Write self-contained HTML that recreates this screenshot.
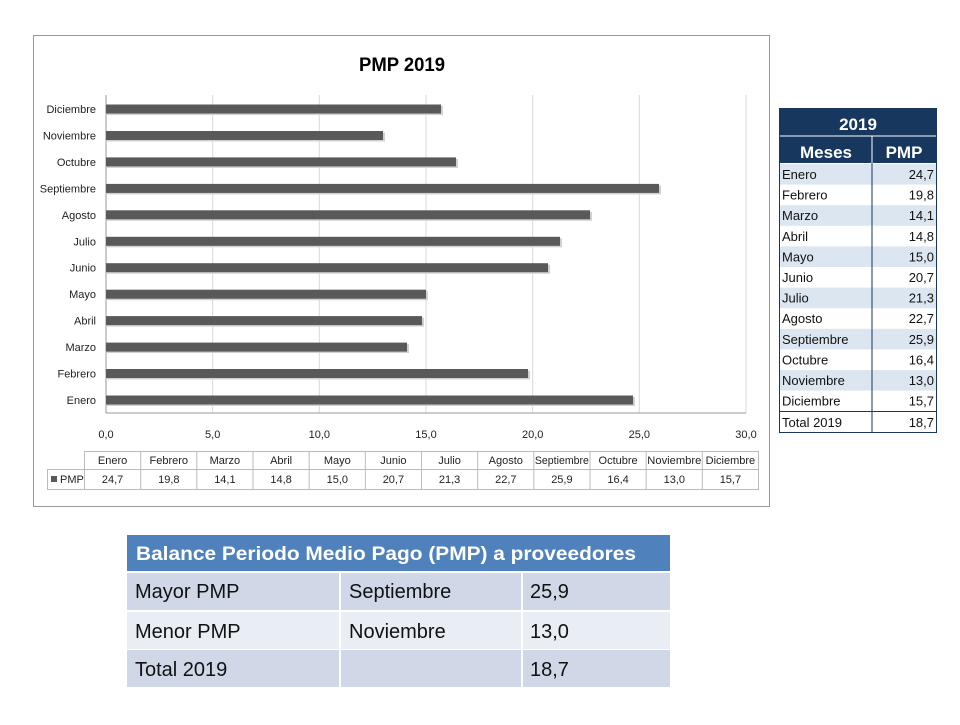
<!DOCTYPE html>
<html><head><meta charset="utf-8"><style>
body{margin:0;width:960px;height:720px;background:#fff;overflow:hidden;font-family:"Liberation Sans",sans-serif}
</style></head><body>
<svg width="960" height="720" xmlns="http://www.w3.org/2000/svg" font-family="Liberation Sans, sans-serif">
<rect x="33.5" y="35.5" width="736" height="471" fill="#fff" stroke="#999"/>
<text x="402" y="71" font-size="19" font-weight="bold" text-anchor="middle" textLength="86" lengthAdjust="spacingAndGlyphs">PMP 2019</text>
<g stroke="#d9d9d9" stroke-width="1">
<line x1="212.7" y1="95" x2="212.7" y2="413"/><line x1="319.3" y1="95" x2="319.3" y2="413"/><line x1="426" y1="95" x2="426" y2="413"/><line x1="532.7" y1="95" x2="532.7" y2="413"/><line x1="639.3" y1="95" x2="639.3" y2="413"/><line x1="746" y1="95" x2="746" y2="413"/>
</g>
<line x1="106" y1="95" x2="106" y2="413" stroke="#999"/>
<line x1="106" y1="413" x2="746" y2="413" stroke="#999"/>
<g fill="#d0d0d0">
<rect x="107" y="397" width="528" height="9"/><rect x="107" y="370.5" width="423" height="9"/><rect x="107" y="344" width="302" height="9"/><rect x="107" y="317.6" width="317" height="9"/><rect x="107" y="291.2" width="321" height="9"/><rect x="107" y="264.7" width="443" height="9"/><rect x="107" y="238.3" width="455" height="9"/><rect x="107" y="211.8" width="485" height="9"/><rect x="107" y="185.4" width="554" height="9"/><rect x="107" y="158.9" width="351" height="9"/><rect x="107" y="132.5" width="278" height="9"/><rect x="107" y="106" width="336" height="9"/>
</g>
<g fill="#595959">
<rect x="106" y="395.5" width="527" height="9"/><rect x="106" y="369" width="422" height="9"/><rect x="106" y="342.6" width="301" height="9"/><rect x="106" y="316.1" width="316" height="9"/><rect x="106" y="289.7" width="320" height="9"/><rect x="106" y="263.2" width="442" height="9"/><rect x="106" y="236.8" width="454" height="9"/><rect x="106" y="210.3" width="484" height="9"/><rect x="106" y="183.9" width="553" height="9"/><rect x="106" y="157.4" width="350" height="9"/><rect x="106" y="131" width="277" height="9"/><rect x="106" y="104.5" width="335" height="9"/>
</g>
<g font-size="11" text-anchor="end" fill="#222">
<text x="96" y="404">Enero</text><text x="96" y="377.5">Febrero</text><text x="96" y="351">Marzo</text><text x="96" y="324.6">Abril</text><text x="96" y="298.2">Mayo</text><text x="96" y="271.7">Junio</text><text x="96" y="245.3">Julio</text><text x="96" y="218.8">Agosto</text><text x="96" y="192.4">Septiembre</text><text x="96" y="165.9">Octubre</text><text x="96" y="139.5">Noviembre</text><text x="96" y="113">Diciembre</text>
</g>
<g font-size="11" text-anchor="middle" fill="#222">
<text x="106" y="438">0,0</text><text x="212.7" y="438">5,0</text><text x="319.3" y="438">10,0</text><text x="426" y="438">15,0</text><text x="532.7" y="438">20,0</text><text x="639.3" y="438">25,0</text><text x="746" y="438">30,0</text>
</g>
<g stroke="#bbb" fill="none">
<rect x="84.5" y="451.5" width="674" height="38"/><rect x="47.5" y="469.5" width="37" height="20"/>
<line x1="84" y1="469.5" x2="758" y2="469.5"/>
<line x1="140.7" y1="451" x2="140.7" y2="489"/><line x1="196.8" y1="451" x2="196.8" y2="489"/><line x1="253" y1="451" x2="253" y2="489"/><line x1="309.2" y1="451" x2="309.2" y2="489"/><line x1="365.3" y1="451" x2="365.3" y2="489"/><line x1="421.5" y1="451" x2="421.5" y2="489"/><line x1="477.7" y1="451" x2="477.7" y2="489"/><line x1="533.8" y1="451" x2="533.8" y2="489"/><line x1="590" y1="451" x2="590" y2="489"/><line x1="646.2" y1="451" x2="646.2" y2="489"/><line x1="702.3" y1="451" x2="702.3" y2="489"/>
</g>
<rect x="51" y="476" width="6" height="6" fill="#595959"/>
<text x="60" y="483" font-size="11" fill="#222">PMP</text>
<g font-size="11" text-anchor="middle" fill="#222">
<text x="112.6" y="464">Enero</text><text x="168.8" y="464">Febrero</text><text x="224.9" y="464">Marzo</text><text x="281.1" y="464">Abril</text><text x="337.3" y="464">Mayo</text><text x="393.4" y="464">Junio</text><text x="449.6" y="464">Julio</text><text x="505.8" y="464">Agosto</text><text x="561.9" y="464" textLength="54" lengthAdjust="spacingAndGlyphs">Septiembre</text><text x="618.1" y="464">Octubre</text><text x="674.3" y="464" textLength="54" lengthAdjust="spacingAndGlyphs">Noviembre</text><text x="730.4" y="464">Diciembre</text>
<text x="112.6" y="483">24,7</text><text x="168.8" y="483">19,8</text><text x="224.9" y="483">14,1</text><text x="281.1" y="483">14,8</text><text x="337.3" y="483">15,0</text><text x="393.4" y="483">20,7</text><text x="449.6" y="483">21,3</text><text x="505.8" y="483">22,7</text><text x="561.9" y="483">25,9</text><text x="618.1" y="483">16,4</text><text x="674.3" y="483">13,0</text><text x="730.4" y="483">15,7</text>
</g>

<rect x="779" y="108" width="158" height="55" fill="#17375e"/>
<line x1="779" y1="136" x2="937" y2="136" stroke="#fff" stroke-width="1"/>
<line x1="872" y1="136" x2="872" y2="163" stroke="#fff"/>
<text x="858" y="130" font-size="17" font-weight="bold" fill="#fff" text-anchor="middle">2019</text>
<text x="826" y="158" font-size="17" font-weight="bold" fill="#fff" text-anchor="middle">Meses</text>
<text x="904" y="158" font-size="17" font-weight="bold" fill="#fff" text-anchor="middle">PMP</text>
<g fill="#dce6f1">
<rect x="779" y="164" width="158" height="20.6"/><rect x="779" y="205.2" width="158" height="20.6"/><rect x="779" y="246.4" width="158" height="20.6"/><rect x="779" y="287.6" width="158" height="20.6"/><rect x="779" y="328.8" width="158" height="20.6"/><rect x="779" y="370" width="158" height="20.6"/>
</g>
<rect x="779.5" y="108.5" width="157" height="324" fill="none" stroke="#17375e"/>
<line x1="872" y1="163" x2="872" y2="432" stroke="#17375e"/>
<line x1="779" y1="411.5" x2="937" y2="411.5" stroke="#17375e"/>
<g font-size="13" fill="#111">
<text x="782" y="179">Enero</text><text x="782" y="199.6">Febrero</text><text x="782" y="220.2">Marzo</text><text x="782" y="240.8">Abril</text><text x="782" y="261.4">Mayo</text><text x="782" y="282">Junio</text><text x="782" y="302.6">Julio</text><text x="782" y="323.2">Agosto</text><text x="782" y="343.8">Septiembre</text><text x="782" y="364.4">Octubre</text><text x="782" y="385">Noviembre</text><text x="782" y="405.6">Diciembre</text><text x="782" y="427">Total 2019</text>
</g>
<g font-size="13" fill="#111" text-anchor="end">
<text x="934" y="179">24,7</text><text x="934" y="199.6">19,8</text><text x="934" y="220.2">14,1</text><text x="934" y="240.8">14,8</text><text x="934" y="261.4">15,0</text><text x="934" y="282">20,7</text><text x="934" y="302.6">21,3</text><text x="934" y="323.2">22,7</text><text x="934" y="343.8">25,9</text><text x="934" y="364.4">16,4</text><text x="934" y="385">13,0</text><text x="934" y="405.6">15,7</text><text x="934" y="427">18,7</text>
</g>

<rect x="127" y="535" width="543" height="36" fill="#4f81bd"/>
<rect x="127" y="573" width="543" height="37" fill="#d0d8e8"/>
<rect x="127" y="612" width="543" height="37" fill="#e9edf4"/>
<rect x="127" y="650" width="543" height="37" fill="#d0d8e8"/>
<g stroke="#fff" stroke-width="2">
<line x1="340" y1="572" x2="340" y2="687"/><line x1="522" y1="572" x2="522" y2="687"/>
</g>
<text x="136" y="560" font-size="19" font-weight="bold" fill="#fff" textLength="500" lengthAdjust="spacingAndGlyphs">Balance Periodo Medio Pago (PMP) a proveedores</text>
<g font-size="20" fill="#111">
<text x="135" y="598">Mayor PMP</text><text x="349" y="598">Septiembre</text><text x="530" y="598">25,9</text>
<text x="135" y="638">Menor PMP</text><text x="349" y="638">Noviembre</text><text x="530" y="638">13,0</text>
<text x="135" y="676">Total 2019</text><text x="530" y="676">18,7</text>
</g>
</svg>
</body></html>
